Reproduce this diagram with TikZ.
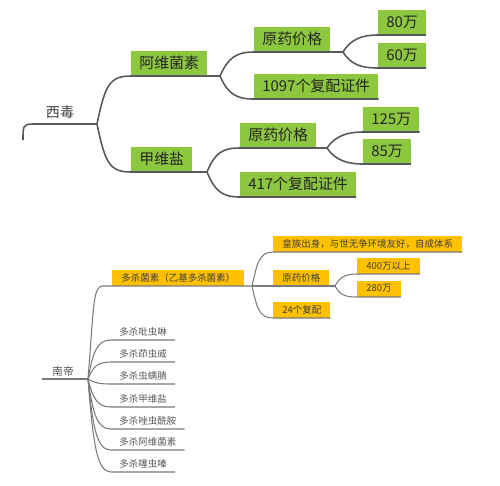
\documentclass[tikz,border=0pt]{standalone}
\usepackage{fontspec}
\setmainfont{Noto Sans CJK SC}
\usetikzlibrary{positioning}
\definecolor{leafgreen}{HTML}{8DC63F}
\definecolor{leafgold}{HTML}{FFC000}
\definecolor{branchgray}{HTML}{595959}
\definecolor{twiggray}{HTML}{7A7A7A}

\begin{document}
\begin{tikzpicture}[x=0.02cm, y=-0.02cm,
    gbox/.style={fill=leafgreen, anchor=south west, inner xsep=0.16cm, inner ysep=0pt, minimum height=0.5cm, font=\fontsize{8.5}{10}\selectfont, text=black!85},
    obox/.style={fill=leafgold, anchor=south west, inner xsep=0.18cm, inner ysep=0pt, minimum height=0.32cm, font=\fontsize{5.4}{6}\selectfont, text=black!75},
    twig/.style={anchor=south west, inner xsep=0.16cm, inner ysep=0pt, minimum height=0.32cm, font=\fontsize{5.4}{6}\selectfont, text=black!65},
    bough/.style={draw=branchgray, line width=0.9pt},
    sprig/.style={draw=twiggray, line width=0.6pt}]

    \useasboundingbox (0,0) rectangle (500,485);

    % upper tree
    \node[font=\fontsize{8}{9}\selectfont, text=black!75] (xd) at (60,112) {西毒};
    \coordinate (xdstart) at (23,140);
    \coordinate (xdbp) at (97,124);

    \node[gbox] (avm) at (131,76) {阿维菌素};
    \node[gbox] (jws) at (131,172) {甲维盐};
    \coordinate (avmbp) at (220,76);
    \coordinate (jwsbp) at (207,172);

    \node[gbox] (ayj1) at (254,52) {原药价格};
    \node[gbox] (fp1) at (254,99) {1097个复配证件};
    \coordinate (ayjbp1) at (343,52);
    \node[gbox] (p80) at (378,35) {80万};
    \node[gbox] (p60) at (378,68) {60万};

    \node[gbox] (ayj2) at (240,148) {原药价格};
    \node[gbox] (fp2) at (240,197) {417个复配证件};
    \coordinate (ayjbp2) at (327,148);
    \node[gbox] (p125) at (363,132) {125万};
    \node[gbox] (p85) at (363,164) {85万};

    \draw[bough] (xdstart) .. controls +(0,-14) and +(-10,0) .. (33,124) -- (xdbp);
    \draw[bough] (xdbp) .. controls +(8,-38) and +(-22,0) .. (avm.south west) -- (avmbp);
    \draw[bough] (xdbp) .. controls +(8,38) and +(-22,0) .. (jws.south west) -- (jwsbp);
    \draw[bough] (avmbp) .. controls +(8,-18) and +(-18,0) .. (ayj1.south west) -- (ayjbp1);
    \draw[bough] (avmbp) .. controls +(8,18) and +(-18,0) .. (fp1.south west) -- (fp1.south east);
    \draw[bough] (ayjbp1) .. controls +(8,-13) and +(-16,0) .. (p80.south west) -- (p80.south east);
    \draw[bough] (ayjbp1) .. controls +(8,13) and +(-16,0) .. (p60.south west) -- (p60.south east);
    \draw[bough] (jwsbp) .. controls +(8,-19) and +(-18,0) .. (ayj2.south west) -- (ayjbp2);
    \draw[bough] (jwsbp) .. controls +(8,19) and +(-18,0) .. (fp2.south west) -- (fp2.south east);
    \draw[bough] (ayjbp2) .. controls +(8,-12) and +(-16,0) .. (p125.south west) -- (p125.south east);
    \draw[bough] (ayjbp2) .. controls +(8,12) and +(-16,0) .. (p85.south west) -- (p85.south east);

    % lower tree
    \node[font=\fontsize{6}{7}\selectfont, text=black!70] (nd) at (63,371) {南帝};
    \coordinate (ndstart) at (42,379);
    \coordinate (ndbp) at (88,379);

    \node[obox] (dsj) at (112,286) {多杀菌素（乙基多杀菌素）};
    \coordinate (dsjl) at (103,286);
    \coordinate (dsjbp) at (252,286);
    \node[obox] (hz) at (273,252) {皇族出身，与世无争环境友好，自成体系};
    \node[obox] (ayj3) at (273,286) {原药价格};
    \node[obox] (fp3) at (273,318) {24个复配};
    \coordinate (ayjbp3) at (335,286);
    \node[obox] (p400) at (357,274) {400万以上};
    \node[obox] (p280) at (357,297) {280万};

    \node[twig] (t1) at (111,340) {多杀吡虫啉};
    \node[twig] (t2) at (111,362) {多杀茚虫威};
    \node[twig] (t3) at (111,384) {多杀虫螨腈};
    \node[twig] (t4) at (111,407) {多杀甲维盐};
    \node[twig] (t5) at (111,429) {多杀唑虫酰胺};
    \node[twig] (t6) at (111,450) {多杀阿维菌素};
    \node[twig] (t7) at (111,472) {多杀噻虫嗪};

    \draw[sprig] (ndstart) -- (ndbp);
    \draw[sprig] (ndbp) .. controls +(6,-75) and +(-10,0) .. (dsjl) -- (dsjbp);
    \draw[sprig] (dsjbp) .. controls +(5,-22) and +(-14,0) .. (hz.south west) -- (hz.south east);
    \draw[sprig] (dsjbp) -- (ayj3.south west) -- (ayjbp3);
    \draw[sprig] (dsjbp) .. controls +(5,22) and +(-14,0) .. (fp3.south west) -- (fp3.south east);
    \draw[sprig] (ayjbp3) .. controls +(5,-9) and +(-12,0) .. (p400.south west) -- (p400.south east);
    \draw[sprig] (ayjbp3) .. controls +(5,9) and +(-12,0) .. (p280.south west) -- (p280.south east);
    \foreach \t/\dy in {t1/-27, t2/-12, t3/3, t4/19, t5/35, t6/50, t7/65}
        \draw[sprig] (ndbp) .. controls +(5,\dy) and +(-14,0) .. (\t.south west) -- (\t.south east);
\end{tikzpicture}
\end{document}
